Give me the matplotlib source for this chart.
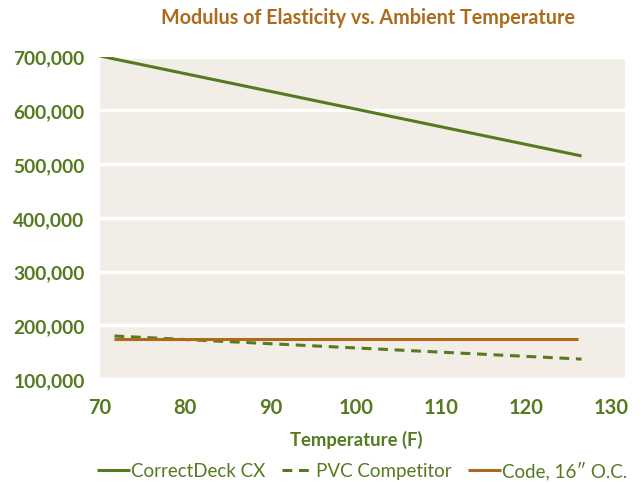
import matplotlib.pyplot as plt
from matplotlib.ticker import FuncFormatter

# data
correctdeck_temp = [70, 126.5]
correctdeck_moe = [701000, 515000]
pvc_temp = [71.7, 126.5]
pvc_moe = [180000, 137000]
code_temp = [71.7, 126.1]
code_moe = [174000, 174000]

x_ticks = [70, 80, 90, 100, 110, 120, 130]
y_ticks = [100000, 200000, 300000, 400000, 500000, 600000, 700000]

green = "#557a1f"
brown = "#ab6b1c"
bg = "#f2eee7"

plt.rcParams["font.family"] = ["Lato", "DejaVu Sans"]

fig = plt.figure(figsize=(6.43, 4.85), dpi=100)
ax = fig.add_axes([0.1555, 0.2165, 0.972 - 0.1555, 0.8814 - 0.2165])
ax.set_facecolor(bg)

ax.plot(correctdeck_temp, correctdeck_moe, color=green, lw=2.2,
        solid_capstyle="butt", label="CorrectDeck CX", zorder=3)
ax.plot(pvc_temp, pvc_moe, color=green, lw=2.2, dashes=(3.2, 2.2),
        label="PVC Competitor", zorder=3)
ax.plot(code_temp, code_moe, color=brown, lw=2.2,
        solid_capstyle="butt", label="Code, 16\u2033 O.C.", zorder=3)

ax.set_xlim(70, 131.6)
ax.set_ylim(100000, 700000)
ax.set_xticks(x_ticks)
ax.set_yticks(y_ticks)
ax.yaxis.set_major_formatter(FuncFormatter(lambda v, p: f"{int(v):,}"))
ax.grid(axis="y", color="white", lw=2.5)
ax.set_axisbelow(True)
for s in ax.spines.values():
    s.set_visible(False)
ax.tick_params(length=0, labelcolor=green)
ax.tick_params(axis="y", labelsize=13.8, pad=11)
ax.tick_params(axis="x", labelsize=14.5, pad=13)
for lab in ax.get_xticklabels() + ax.get_yticklabels():
    lab.set_fontweight("bold")

ax.set_xlabel("Temperature (F)", fontsize=13.3, fontweight="bold",
              color=green)
ax.xaxis.set_label_coords((356 - 100) / (625 - 100), -0.157)

fig.text(368 / 643, 1 - 18 / 485, "Modulus of Elasticity vs. Ambient Temperature",
         ha="center", va="center", fontsize=14.2, fontweight="bold", color=brown)

leg = fig.legend(loc="center", bbox_to_anchor=(362 / 643, 1 - 471 / 485), ncol=3,
                 frameon=False, fontsize=13.5, handlelength=1.75, handletextpad=0.05,
                 columnspacing=0.9)
for t in leg.get_texts():
    t.set_color(green)

fig.savefig("out.png", dpi=100)
